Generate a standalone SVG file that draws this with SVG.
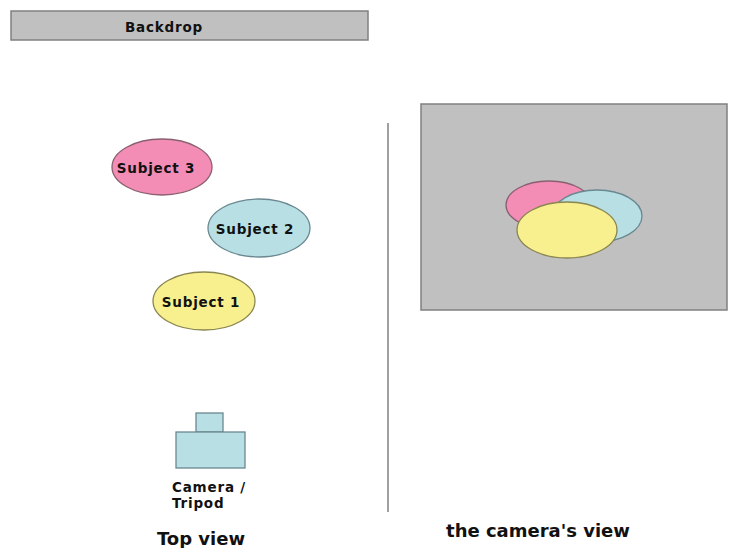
<svg xmlns="http://www.w3.org/2000/svg" width="732" height="548" viewBox="0 0 732 548">
<style>
.lbl{font-family:"DejaVu Sans",Verdana,sans-serif;font-weight:bold;font-size:13.5px;letter-spacing:0.8px;fill:#111}
.cap{font-family:"DejaVu Sans",Verdana,sans-serif;font-weight:bold;font-size:18px;fill:#111}
.pink{fill:#f38db5;stroke:#8a6070;stroke-width:1.3}
.blue{fill:#b7dfe4;stroke:#6a8890;stroke-width:1.3}
.yel{fill:#f8f08f;stroke:#8a8650;stroke-width:1.3}
.gray{fill:#c0c0c0;stroke:#808080;stroke-width:1.5}
</style>
<rect width="732" height="548" fill="#ffffff"/>
<g id="backdrop">
<rect class="gray" x="11" y="11" width="357" height="29"/>
<text class="lbl" x="164" y="32" text-anchor="middle">Backdrop</text>
</g>
<g id="subject3">
<ellipse class="pink" cx="162" cy="167" rx="50" ry="28"/>
<text class="lbl" x="156" y="173" text-anchor="middle">Subject 3</text>
</g>
<g id="subject2">
<ellipse class="blue" cx="259" cy="228" rx="51" ry="29"/>
<text class="lbl" x="255" y="234" text-anchor="middle">Subject 2</text>
</g>
<g id="subject1">
<ellipse class="yel" cx="204" cy="301" rx="51" ry="29"/>
<text class="lbl" x="201" y="307" text-anchor="middle">Subject 1</text>
</g>
<g id="camera">
<rect class="blue" x="196" y="413" width="27" height="19"/>
<rect class="blue" x="176" y="432" width="69" height="36"/>
<text class="lbl" x="172" y="492">Camera /</text>
<text class="lbl" x="172" y="508">Tripod</text>
</g>
<g id="divider">
<line x1="388" y1="123" x2="388" y2="512" stroke="#808080" stroke-width="1.5"/>
</g>
<g id="cameraview">
<rect class="gray" x="421" y="104" width="306" height="206"/>
<ellipse class="pink" cx="549" cy="205" rx="43" ry="24"/>
<ellipse class="blue" cx="597" cy="216" rx="45" ry="26"/>
<ellipse class="yel" cx="567" cy="230" rx="50" ry="28"/>
</g>
<text class="cap" x="201" y="545" text-anchor="middle">Top view</text>
<text class="cap" x="538" y="537" text-anchor="middle">the camera's view</text>
</svg>
